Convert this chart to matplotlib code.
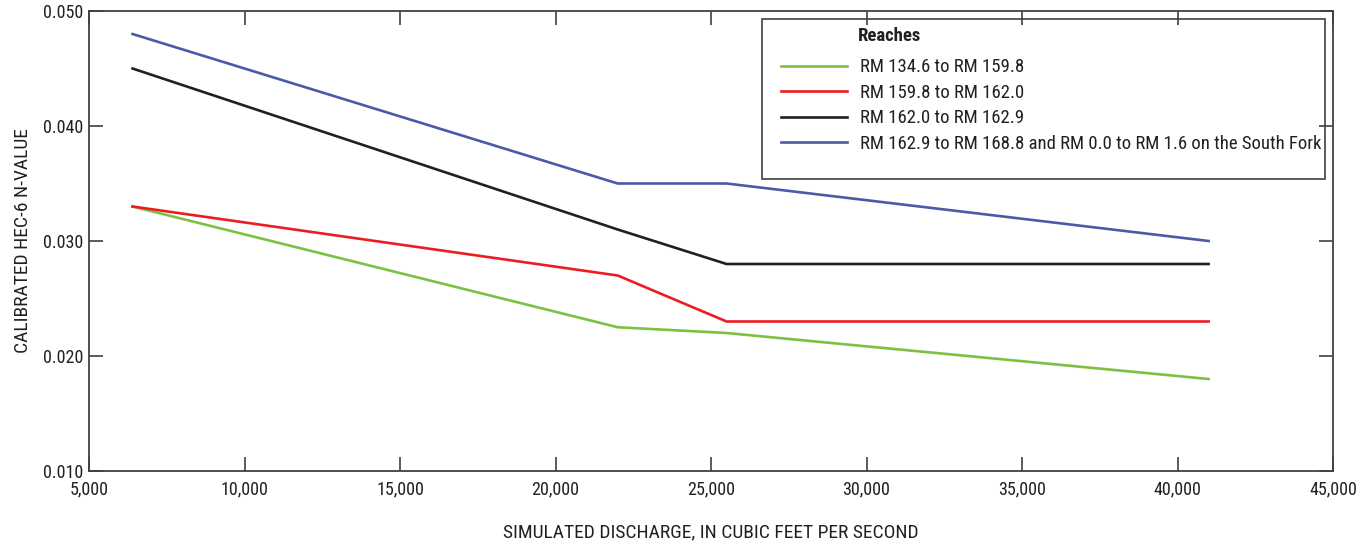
import matplotlib
matplotlib.use("Agg")
import matplotlib.pyplot as plt
from matplotlib.patches import Rectangle

plt.rcParams['font.family'] = ['Roboto Condensed', 'DejaVu Sans']

# discharge, cubic feet per second
discharge = [6400, 22000, 25500, 41000]

reach_labels = [
    "RM 134.6 to RM 159.8",
    "RM 159.8 to RM 162.0",
    "RM 162.0 to RM 162.9",
    "RM 162.9 to RM 168.8 and RM 0.0 to RM 1.6 on the South Fork",
]
n_green = [0.033, 0.0225, 0.022, 0.018]
n_red = [0.033, 0.027, 0.023, 0.023]
n_black = [0.045, 0.031, 0.028, 0.028]
n_blue = [0.048, 0.035, 0.035, 0.030]

xticks = [5000, 10000, 15000, 20000, 25000, 30000, 35000, 40000, 45000]
yticks = [0.010, 0.020, 0.030, 0.040, 0.050]

colors = ["#7cc142", "#ed1c24", "#231f20", "#4a5aa8"]
series = [n_green, n_red, n_black, n_blue]

W, H = 1370, 541
fig = plt.figure(figsize=(13.7, 5.41), dpi=100)
ax = fig.add_axes([89 / W, 1 - 471 / H, (1333 - 89) / W, (471 - 11) / H])

handles = []
for vals, c, lab in zip(series, colors, reach_labels):
    h, = ax.plot(discharge, vals, color=c, lw=1.9, label=lab, solid_joinstyle='miter')
    handles.append(h)

ax.set_xlim(5000, 45000)
ax.set_ylim(0.010, 0.050)
ax.set_xticks(xticks)
ax.set_xticklabels([f"{v:,}" for v in xticks])
ax.set_yticks(yticks)
ax.set_yticklabels([f"{v:.3f}" for v in yticks])
ax.tick_params(direction='in', length=10, width=1.2, color='#404040',
               top=True, right=True, labelsize=13, labelcolor='#231f20', pad=4)
ax.tick_params(axis='x', pad=7)
for s in ax.spines.values():
    s.set_color('#404040')
    s.set_linewidth(1.3)

ax.set_xlabel("SIMULATED DISCHARGE, IN CUBIC FEET PER SECOND", fontsize=14,
              color='#231f20', labelpad=18)
ax.set_ylabel("CALIBRATED HEC-6 N-VALUE", fontsize=14, color='#231f20', labelpad=8)

# legend frame and title
frame = Rectangle((762 / W, 1 - 179 / H), (1325 - 762) / W, (179 - 19) / H,
                  transform=fig.transFigure, fill=False, edgecolor='#404040', lw=1.2)
fig.patches.append(frame)
fig.text(858 / W, 1 - 36 / H, "Reaches", fontsize=13.5, fontweight='bold',
         color='#231f20', va='center', ha='left')
leg = ax.legend(handles=handles, loc='upper left',
                bbox_to_anchor=(768 / W, 1 - 45 / H), bbox_transform=fig.transFigure,
                frameon=False, fontsize=13.5, labelcolor='#231f20',
                handlelength=3.5, handletextpad=0.7, labelspacing=0.4, borderpad=0.2)

fig.savefig("out.png", dpi=100)
